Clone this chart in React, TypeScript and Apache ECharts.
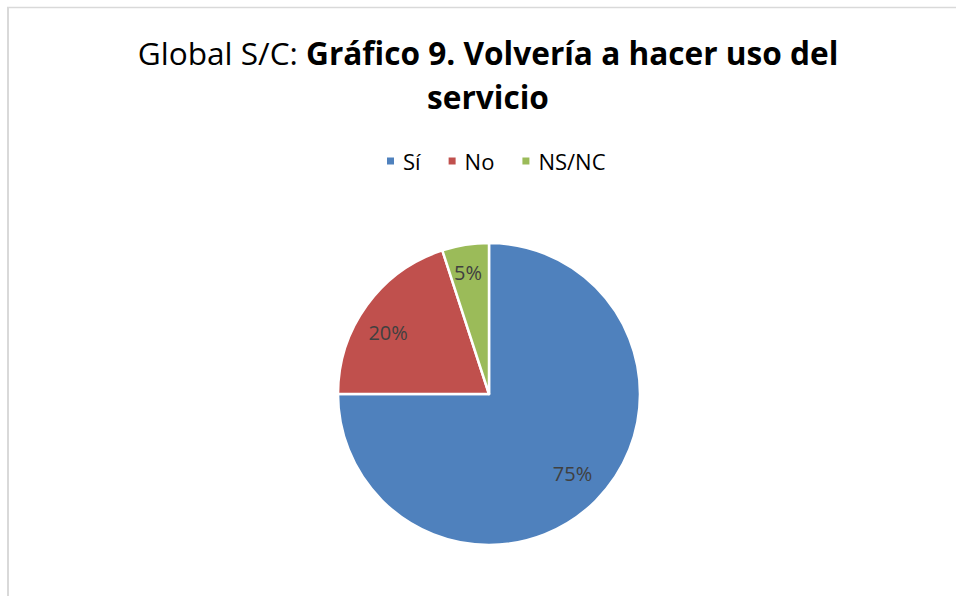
import React, { useEffect, useRef } from "react";
import * as echarts from "echarts";

const categories = ["Sí", "No", "NS/NC"];
const values = [75, 20, 5];
const colors = ["#4F81BD", "#C0504D", "#9BBB59"];
const titleNormal = "Global S/C: ";
const titleBold1 = "Gráfico 9. Volvería a hacer uso del";
const titleBold2 = "servicio";

const FONT = "'Open Sans', sans-serif";
const labelShift = [
  [-2, -6],
  [-3, 10],
  [-2, -2],
];

export default function App() {
  const ref = useRef<HTMLDivElement>(null);
  useEffect(() => {
    const chart = echarts.init(ref.current!, null, { renderer: "svg" });
    const data = categories.map((name, i) => ({
      name,
      value: values[i],
      itemStyle: { color: colors[i] },
    }));
    chart.setOption({
      animation: false,
      backgroundColor: "#ffffff",
      legend: {
        top: 150,
        left: 385,
        padding: 0,
        itemWidth: 9,
        itemHeight: 9,
        itemGap: 26,
        icon: "rect",
        textStyle: { fontFamily: FONT, fontSize: 22, color: "#000", padding: [0, 0, 0, 3] },
        data: categories,
      },
      graphic: [
        { type: "line", shape: { x1: 8, y1: 7, x2: 8, y2: 596 }, style: { stroke: "#d9d9d9", lineWidth: 2 } },
        { type: "line", shape: { x1: 7, y1: 7.5, x2: 956, y2: 7.5 }, style: { stroke: "#d9d9d9", lineWidth: 1.5 } },
        {
          type: "text",
          x: 488,
          y: 52,
          style: {
            text: `{n|${titleNormal}}{b|${titleBold1}}`,
            align: "center",
            verticalAlign: "middle",
            rich: {
              n: { fontFamily: FONT, fontSize: 31.6, fontWeight: "normal", fill: "#000" },
              b: { fontFamily: FONT, fontSize: 31.6, fontWeight: "bold", fill: "#000" },
            },
          },
        },
        {
          type: "text",
          x: 488,
          y: 96,
          style: {
            text: titleBold2,
            align: "center",
            verticalAlign: "middle",
            fontFamily: FONT,
            fontSize: 31.6,
            fontWeight: "bold",
            fill: "#000",
          },
        },
      ],
      series: [
        {
          type: "pie",
          center: [489, 394],
          radius: [0, 151],
          startAngle: 90,
          clockwise: true,
          data,
          label: { show: false },
          labelLine: { show: false },
          itemStyle: { borderColor: "#ffffff", borderWidth: 2.5 },
          emphasis: { disabled: true },
          silent: true,
        },
        {
          type: "pie",
          center: [489, 394],
          radius: [85, 151],
          startAngle: 90,
          clockwise: true,
          data: categories.map((name, i) => ({ name, value: values[i] })),
          itemStyle: { color: "transparent", borderWidth: 0 },
          label: {
            show: true,
            position: "inside",
            formatter: "{c}%",
            fontFamily: FONT,
            fontSize: 20,
            color: "#404040",
          },
          labelLayout: (params: any) => {
            const s = labelShift[params.dataIndex] || [0, 0];
            return { dx: s[0], dy: s[1] };
          },
          labelLine: { show: false },
          emphasis: { disabled: true },
          silent: true,
          legendHoverLink: false,
        },
      ],
    });
    return () => chart.dispose();
  }, []);
  return (
    <div style={{ position: "fixed", left: 0, top: 0, width: 956, height: 596 }}>
      <div ref={ref} style={{ width: 956, height: 596 }} />
    </div>
  );
}
